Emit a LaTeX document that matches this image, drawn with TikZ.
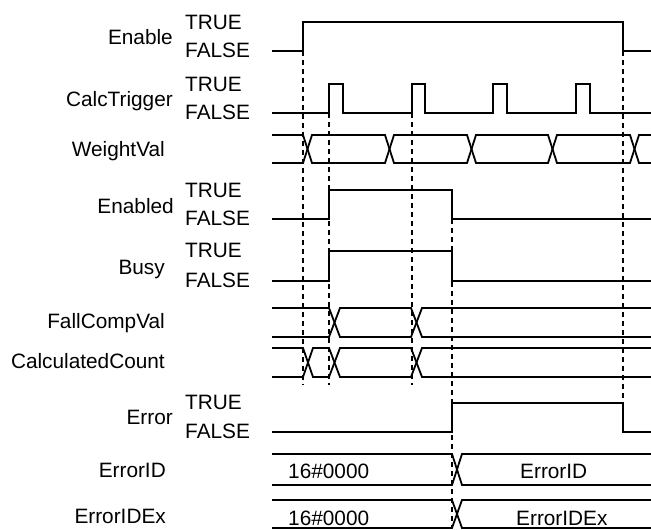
\documentclass[tikz,border=0pt]{standalone}
\usepackage{fontspec}
\setmainfont{Liberation Sans}
\begin{document}
\begin{tikzpicture}[x=1pt,y=-1pt,
  sig/.style={line width=1.8pt, line join=miter},
  guide/.style={line width=1.4pt, dash pattern=on 5pt off 4pt},
  txt/.style={inner sep=0pt, font=\fontsize{20.8}{22}\selectfont},
  lab/.style={txt, anchor=base east},
  lvl/.style={txt, anchor=base west},
  val/.style={txt, anchor=base west}]
\useasboundingbox (0,0) rectangle (651,530);
% guide lines
\draw[guide] (303,51) -- (303,385);
\draw[guide] (329,113) -- (329,385);
\draw[guide] (412,113) -- (412,385);
\draw[guide] (452,219) -- (452,528);
\draw[guide] (623,51) -- (623,403);
% Enable
\node[lab] (lEnable) at (173,44) {Enable};
\node[lvl] (tEnable) at (185,29.5) {TRUE};
\node[lvl] (fEnable) at (185,57.5) {FALSE};
\draw[sig] (272,51) -- (303,51) -- (303,22) -- (623,22) -- (623,51) -- (651,51);
% CalcTrigger
\node[lab] (lCalc) at (173,106) {CalcTrigger};
\node[lvl] (tCalc) at (185,91) {TRUE};
\node[lvl] (fCalc) at (185,119) {FALSE};
\draw[sig] (272,113) -- (329,113) -- (329,84) -- (343,84) -- (343,113) -- (412,113) -- (412,84) -- (425,84) -- (425,113) -- (493,113) -- (493,84) -- (507,84) -- (507,113) -- (576,113) -- (576,84) -- (590,84) -- (590,113) -- (651,113);
% WeightVal
\node[lab] (lWeight) at (165,156) {WeightVal};
\draw[sig] (272,135) -- (303,135) -- (312,163) -- (385,163) -- (394,135) -- (467,135) -- (476,163) -- (548,163) -- (557,135) -- (630,135) -- (639,163) -- (651,163);
\draw[sig] (272,163) -- (303,163) -- (312,135) -- (385,135) -- (394,163) -- (467,163) -- (476,135) -- (548,135) -- (557,163) -- (630,163) -- (639,135) -- (651,135);
% Enabled
\node[lab] (lEnabled) at (174,213) {Enabled};
\node[lvl] (tEnabled) at (185,197) {TRUE};
\node[lvl] (fEnabled) at (185,225.5) {FALSE};
\draw[sig] (272,219) -- (329,219) -- (329,190) -- (452,190) -- (452,219) -- (651,219);
% Busy
\node[lab] (lBusy) at (165,274) {Busy};
\node[lvl] (tBusy) at (185,257.5) {TRUE};
\node[lvl] (fBusy) at (185,287.5) {FALSE};
\draw[sig] (272,281) -- (329,281) -- (329,251) -- (452,251) -- (452,281) -- (651,281);
% FallCompVal
\node[lab] (lFall) at (165,328) {FallCompVal};
\draw[sig] (272,308) -- (329,308) -- (340,337) -- (411,337) -- (422,308) -- (651,308);
\draw[sig] (272,337) -- (329,337) -- (340,308) -- (411,308) -- (422,337) -- (651,337);
% CalculatedCount
\node[lab] (lCount) at (165,368) {CalculatedCount};
\draw[sig] (272,348) -- (303,348) -- (313,377) -- (329,377) -- (340,348) -- (411,348) -- (422,377) -- (651,377);
\draw[sig] (272,377) -- (303,377) -- (313,348) -- (329,348) -- (340,377) -- (411,377) -- (422,348) -- (651,348);
% Error
\node[lab] (lError) at (173,424) {Error};
\node[lvl] (tError) at (185,409.5) {TRUE};
\node[lvl] (fError) at (185,438.5) {FALSE};
\draw[sig] (272,432) -- (452,432) -- (452,403) -- (623,403) -- (623,432) -- (651,432);
% ErrorID
\node[lab] (lErrID) at (166,477) {ErrorID};
\draw[sig] (272,454) -- (452,454) -- (462,485) -- (651,485);
\draw[sig] (272,485) -- (452,485) -- (462,454) -- (651,454);
\node[val] (v0ID) at (288,478) {16\#0000};
\node[val] (vID) at (520,478) {ErrorID};
% ErrorIDEx
\node[lab] (lErrIDEx) at (166,523) {ErrorIDEx};
\draw[sig] (272,500) -- (452,500) -- (462,528) -- (651,528);
\draw[sig] (272,528) -- (452,528) -- (462,500) -- (651,500);
\node[val] (v0IDEx) at (288,525) {16\#0000};
\node[val] (vIDEx) at (516,525) {ErrorIDEx};
\end{tikzpicture}
\end{document}
